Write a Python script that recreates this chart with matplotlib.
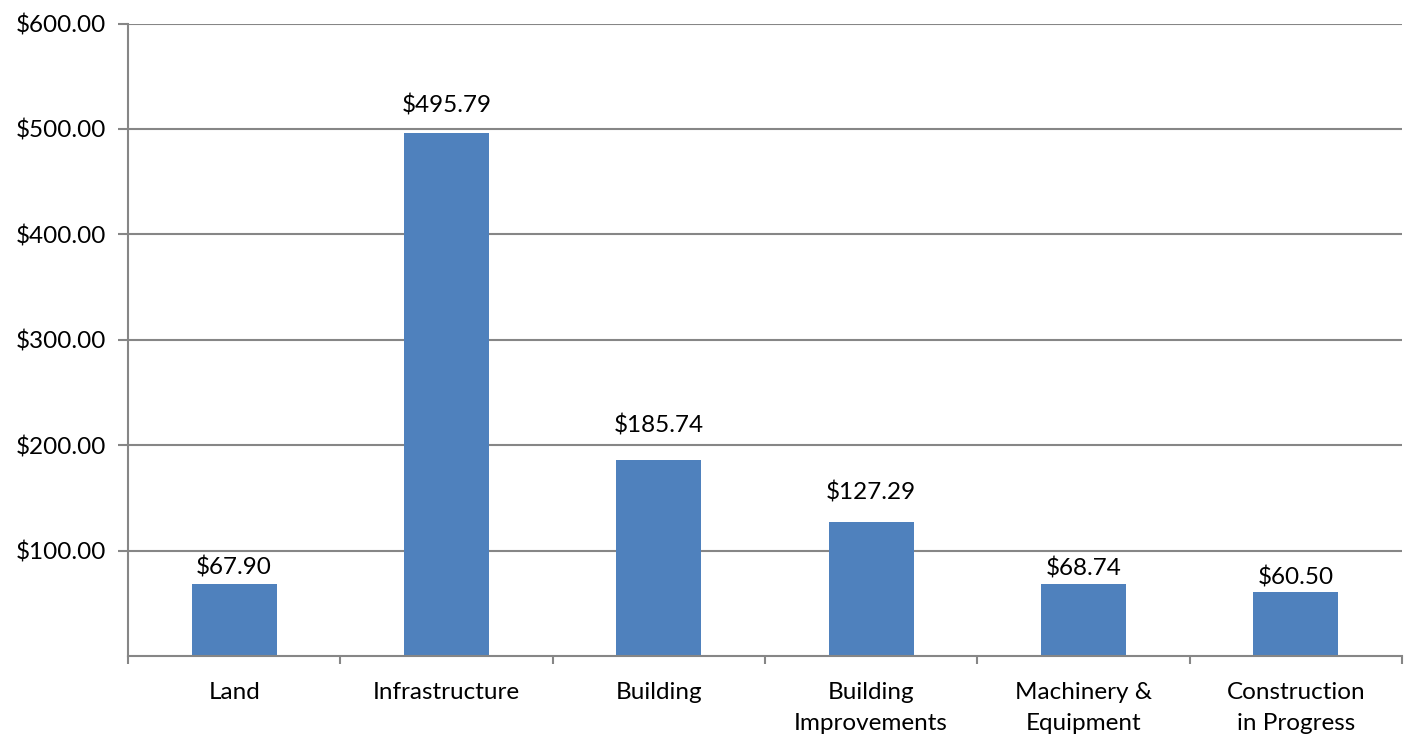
import matplotlib.pyplot as plt
import numpy as np

categories = ['Land', 'Infrastructure', 'Building', 'Building\nImprovements',
              'Machinery &\nEquipment', 'Construction\nin Progress']
values = [67.90, 495.79, 185.74, 127.29, 68.74, 60.50]
label_offsets_px = [17, 28, 35, 29, 15, 15]
y_ticks = [100, 200, 300, 400, 500, 600]

BLUE = '#4F81BD'
GREY = '#868686'
FS = 17.5

plt.rcParams['font.family'] = ['Lato', 'DejaVu Sans']

fig = plt.figure(figsize=(14.08, 7.36), dpi=100)
ax = fig.add_axes([128 / 1408, 1 - 656 / 736, (1402 - 128) / 1408, (656 - 23.5) / 736])

x = np.arange(len(categories))
bars = ax.bar(x, values, width=0.4, color=BLUE, zorder=2)

for xi, v, off in zip(x, values, label_offsets_px):
    ax.annotate(f'${v:,.2f}', (xi, v), xytext=(0, off), textcoords='offset pixels',
                ha='center', va='center', fontsize=FS, color='black')

ax.set_xlim(-0.5, len(categories) - 0.5)
ax.set_ylim(0, 600)
ax.set_yticks(y_ticks)
ax.set_yticklabels([f'${t:,.2f}' for t in y_ticks], fontsize=FS)
ax.yaxis.grid(True, color=GREY, linewidth=1.5, zorder=0)
ax.set_axisbelow(True)

ax.set_xticks(x)
ax.set_xticklabels(categories, fontsize=FS, linespacing=1.55)
ax.set_xticks(np.arange(len(categories) + 1) - 0.5, minor=True)
ax.tick_params(axis='x', which='major', length=0, pad=19)
ax.tick_params(axis='x', which='minor', length=6, width=1.5, color=GREY, direction='out')
ax.tick_params(axis='y', length=7, width=1.5, color=GREY, pad=9)

for s in ['top', 'right']:
    ax.spines[s].set_visible(False)
for s in ['left', 'bottom']:
    ax.spines[s].set_color(GREY)
    ax.spines[s].set_linewidth(1.5)

plt.savefig('out.png', dpi=100)
